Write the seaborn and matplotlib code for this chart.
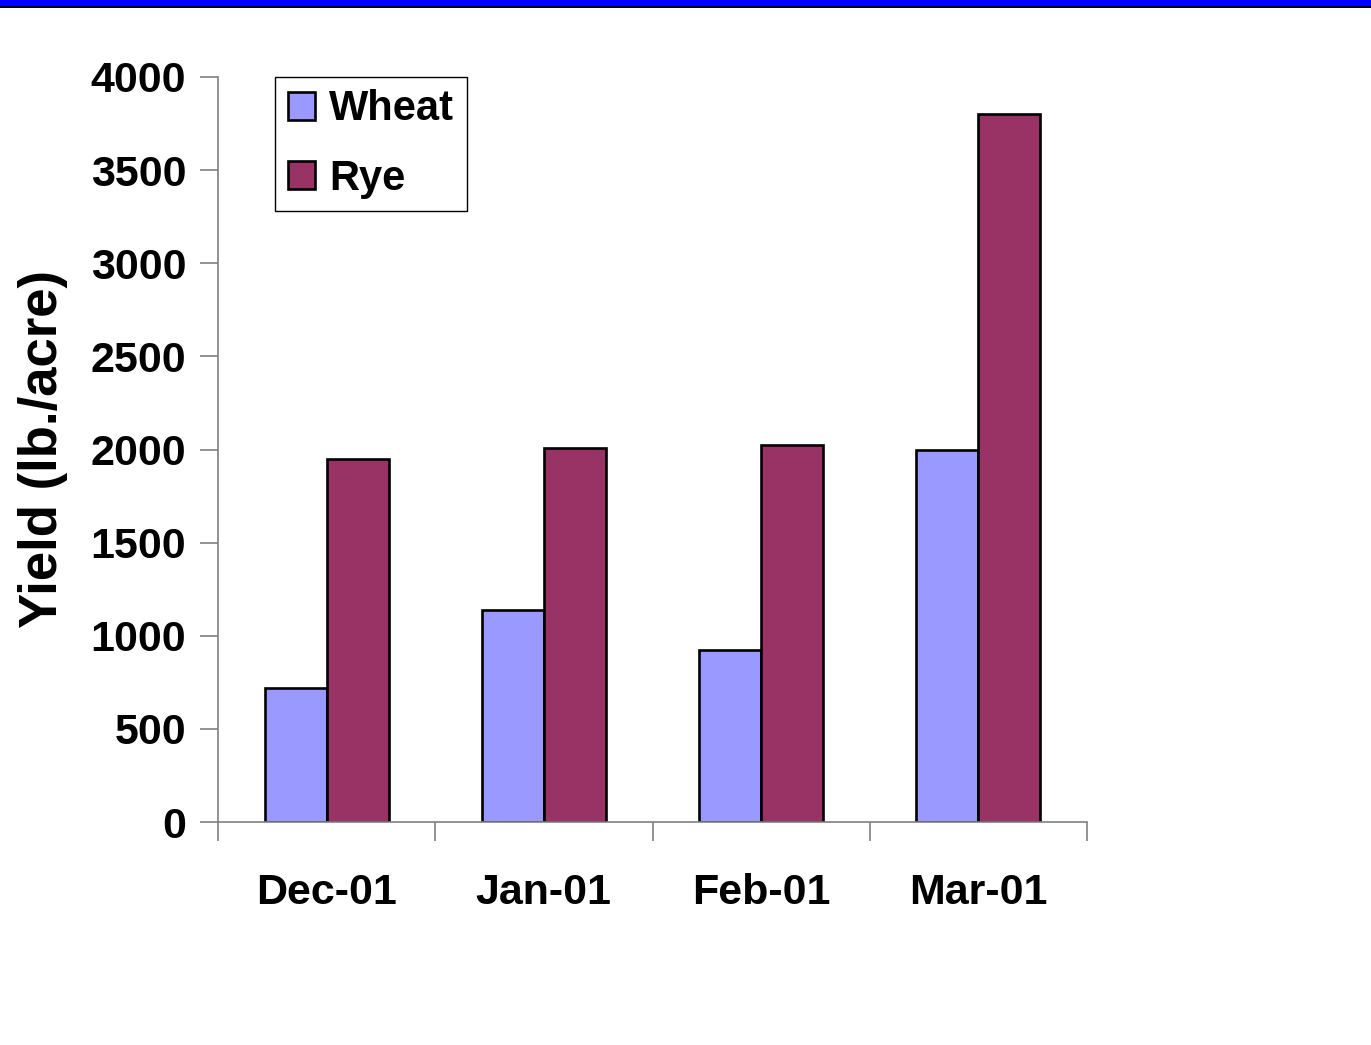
import matplotlib
matplotlib.use("Agg")
import matplotlib.pyplot as plt
import matplotlib.patches as mpatches
from matplotlib.ticker import FixedLocator
import pandas as pd
import seaborn as sns

# data
months = ["Dec-01", "Jan-01", "Feb-01", "Mar-01"]
wheat = [720, 1140, 925, 1995]
rye = [1950, 2010, 2025, 3800]
crops = ["Wheat", "Rye"]
colors = ["#9999FF", "#993366"]

df = pd.DataFrame({
    "Month": months * 2,
    "Crop": ["Wheat"] * len(months) + ["Rye"] * len(months),
    "Yield": wheat + rye,
})

sns.set_theme(style="white")
plt.rcParams['font.family'] = ['Liberation Sans', 'DejaVu Sans']
plt.rcParams['font.weight'] = 'bold'
plt.rcParams['text.color'] = 'black'
plt.rcParams['axes.labelcolor'] = 'black'
plt.rcParams['xtick.labelcolor'] = 'black'
plt.rcParams['ytick.labelcolor'] = 'black'

fig = plt.figure(figsize=(13.71, 10.45), dpi=100)
ax = fig.add_axes([218 / 1371, 1 - 822 / 1045, (1087 - 218) / 1371, (822 - 77) / 1045])

sns.barplot(data=df, x="Month", y="Yield", hue="Crop", hue_order=crops,
            palette=colors, width=0.57, gap=0, edgecolor="black", linewidth=1.9,
            saturation=1, ax=ax)

ax.set_xlim(-0.5, len(months) - 0.5)
ax.set_ylim(0, 4000)
ax.set_yticks(range(0, 4001, 500))
ax.tick_params(axis="y", which="major", left=True, length=13, width=1.2,
               color="#808080", labelcolor="black", labelsize=31, pad=10)
ax.tick_params(axis="x", which="major", bottom=True, length=0, labelsize=31,
               labelcolor="black", pad=37)
ax.xaxis.set_minor_locator(FixedLocator([i - 0.5 for i in range(len(months) + 1)]))
ax.tick_params(axis="x", which="minor", bottom=True, length=14, width=1.2, color="#808080")
for lab in ax.get_xticklabels() + ax.get_yticklabels():
    lab.set_fontweight("bold")

for side in ["top", "right"]:
    ax.spines[side].set_visible(False)
for side in ["left", "bottom"]:
    ax.spines[side].set_color("#808080")
    ax.spines[side].set_linewidth(1.2)

ax.set_xlabel("")
ax.set_ylabel("Yield (lb./acre)", fontsize=38, fontweight="bold", color="black", labelpad=16)

handles = [mpatches.Patch(facecolor=c, edgecolor="black", linewidth=1.9, label=n)
           for c, n in zip(colors, crops)]
ax.legend(handles=handles, loc="upper left", bbox_to_anchor=(275 / 1371, 1 - 77 / 1045),
          bbox_transform=fig.transFigure, borderaxespad=0,
          prop={"weight": "bold", "size": 30}, handlelength=0.65, handleheight=0.65,
          handletextpad=0.35, labelspacing=0.7, borderpad=0.3, fancybox=False,
          frameon=True, edgecolor="black", framealpha=1)
ax.get_legend().get_frame().set_linewidth(1.0)

# blue band along the top edge of the slide
fig.patches.append(mpatches.Rectangle((0, 1 - 6 / 1045), 1, 6 / 1045, transform=fig.transFigure,
                                      facecolor="#0000FF", edgecolor="none"))
fig.patches.append(mpatches.Rectangle((0, 1 - 8 / 1045), 1, 2 / 1045, transform=fig.transFigure,
                                      facecolor="black", edgecolor="none"))

fig.savefig("out.png", dpi=100)
